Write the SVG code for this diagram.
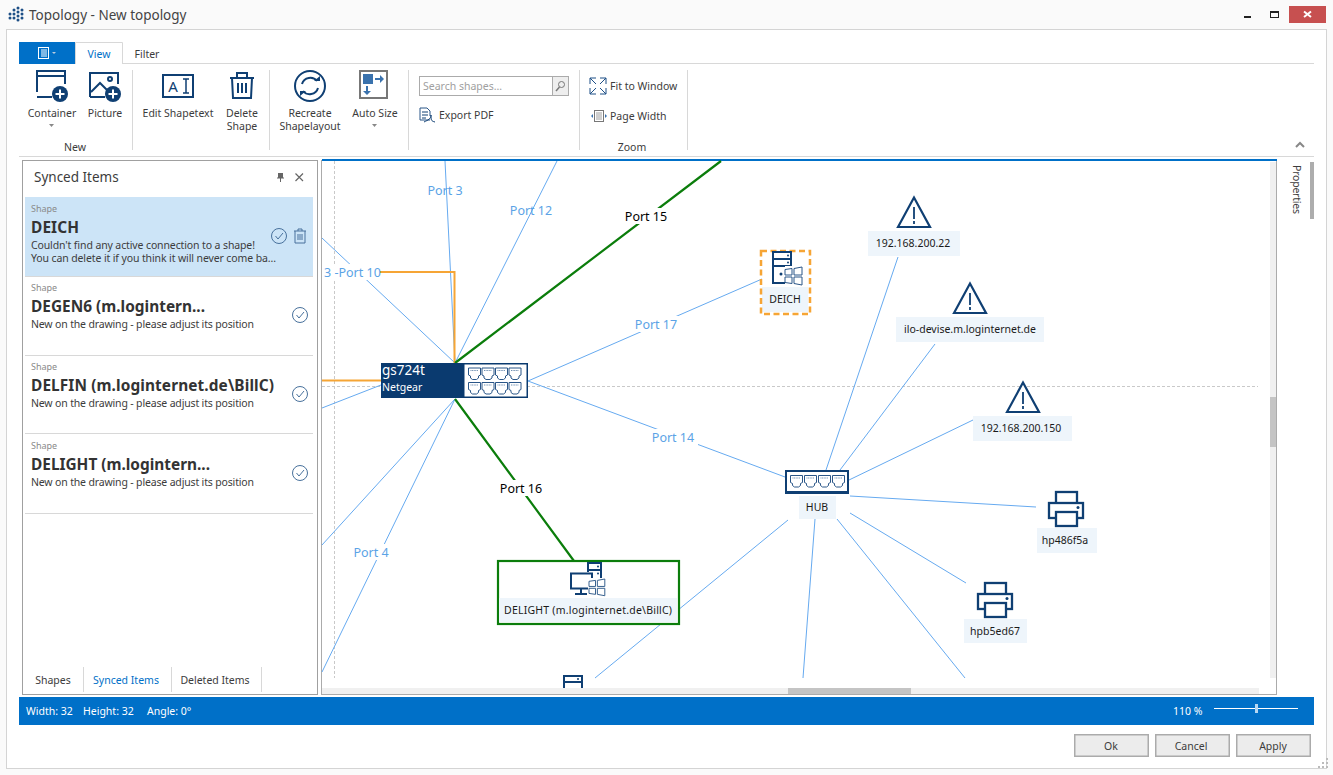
<svg xmlns="http://www.w3.org/2000/svg" width="1333" height="775" viewBox="0 0 1333 775">
<style>
text{font-family:"Noto Sans","Open Sans","Liberation Sans",sans-serif;font-size:10.5px;fill:#3c3c3c}
.m{text-anchor:middle}
.w{fill:#fff}
.d{fill:#1a1a1a}
.b{font-weight:700;font-size:15.4px;fill:#333}
.s{font-size:9px;fill:#8a8a8a}
.pl{font-size:12.5px;fill:#5ba3e6}
.bl{font-size:12.5px;fill:#000}
.sep{stroke:#d8d8d8;stroke-width:1;fill:none}
.ic{fill:none;stroke:#0f3f73;stroke-width:2}
.icf{fill:#0f3f73}
.lb{fill:#eef5fb}
.c{stroke:#66aaf0;stroke-width:1;fill:none}
.o{stroke:#f6a535;stroke-width:2;fill:none}
.g{stroke:#0b7d0b;stroke-width:2.2;fill:none}
.btn{fill:#ececec;stroke:#ababab;stroke-width:1.5}
.chk{fill:none;stroke:#48719c;stroke-width:1}
</style>
<defs>
<g id="port"><path d="M.5 .5H12.500V7.500L10.500 8.500V10.500L8.500 12H4.500L2.500 10.500V8.500L.5 7.500Z" fill="#fff" stroke="#2a5688" stroke-width="1"/><path d="M2.500 3H10.500" stroke="#6f8fb2" stroke-width="1.200" stroke-dasharray="1 .6"/></g>
<g id="warn"><path d="M1 31L17 1.500L33 31Z" fill="#fff" stroke="#0f3f73" stroke-width="2.200"/><path d="M17 11V23M17 25V28" stroke="#0f3f73" stroke-width="1.800"/></g>
<g id="printer"><rect x="8" y="1" width="21" height="12" fill="#fff" stroke="#0f3f73" stroke-width="2.300"/><rect x="1" y="12" width="34" height="15" fill="#fff" stroke="#0f3f73" stroke-width="2.300"/><rect x="8" y="21" width="21" height="14" fill="#fff" stroke="#0f3f73" stroke-width="2.300"/><circle cx="30" cy="16.500" r="1.500" class="icf"/></g>
<g id="win"><path d="M0 2.500L7 1.500V8H0ZM9 1.500L17 0V8H9ZM0 10H7V16.500L0 15.500ZM9 10H17V18L9 16.500Z" fill="#fff" stroke="#2a5688" stroke-width="1"/></g>
<g id="plus"><circle r="8" class="icf"/><path d="M-4.500 0H4.500M0-4.500V4.500" stroke="#fff" stroke-width="2"/></g>
<g id="chk"><circle r="7.500" class="chk"/><path d="M-3.500 0L-1 3L4-3" class="chk"/></g>
</defs>
<rect width="1333" height="775" fill="#fafafa"/>
<g id="titlebar">
<g fill="#1d4f86"><circle cx="10" cy="14" r="1.500"/><circle cx="10" cy="18" r="1.500"/><circle cx="14" cy="10" r="1.500"/><circle cx="14" cy="14" r="1.500"/><circle cx="14" cy="18" r="1.500"/><circle cx="18" cy="8" r="1.500"/><circle cx="18" cy="12" r="1.500"/><circle cx="18" cy="16" r="1.500"/><circle cx="18" cy="20" r="1.500"/><circle cx="22" cy="10" r="1.500"/><circle cx="22" cy="14" r="1.500"/><circle cx="22" cy="18" r="1.500"/></g>
<text x="29" y="20" style="font-size:13.500px;fill:#444">Topology - New topology</text>
<rect x="1244" y="16" width="7" height="2" fill="#222"/>
<rect x="1270.500" y="11.500" width="8" height="6" fill="none" stroke="#222"/><rect x="1270" y="11" width="9" height="2" fill="#222"/>
<rect x="1289" y="6" width="37" height="17" fill="#c75050"/>
<path d="M1304 11.500L1311 17M1311 11.500L1304 17" stroke="#fff" stroke-width="2"/>
</g>
<rect x="6.500" y="29.500" width="1320" height="739" fill="#fff" stroke="#d4d4d4"/>
<g id="ribbon">
<path class="sep" d="M19 63.500H75M123 63.500H1314M19 156.500H1314M132.500 70V150M269.500 70V150M408.500 70V150M579.500 70V150M687.500 70V150"/>
<rect x="19" y="42" width="56" height="22" fill="#0070c8"/>
<g fill="none" stroke="#fff"><rect x="38.500" y="47.500" width="10" height="11"/><path d="M41 50H47M41 52H47M41 54H47M41 56H47"/></g>
<path d="M52 52H56L54 54Z" fill="#bcd"/>
<path d="M75.500 64V42.500H122.500V64" fill="#fff" stroke="#d8d8d8"/>
<text x="99" y="58" class="m" style="fill:#0070c8">View</text>
<text x="147" y="58" class="m">Filter</text>
<g id="btn-container"><path d="M37 92V71H65V84M37 76H65M37 97H52" class="ic"/><use href="#plus" x="60" y="94"/><text x="52" y="117" class="m">Container</text><path d="M49 124H54L51.500 127Z" fill="#888"/></g>
<g id="btn-picture"><path d="M90 97V73H118V84M90 97H105M91 92L100 83L108 91" class="ic"/><circle cx="110" cy="79" r="2" class="ic" stroke-width="1.500"/><use href="#plus" x="113" y="94"/><text x="105" y="117" class="m">Picture</text></g>
<text x="75" y="151" class="m">New</text>
<g id="btn-edit"><rect x="163" y="75" width="30" height="22" class="ic"/><text x="173" y="92" class="m" style="font-size:15px;fill:#0f3f73">A</text><path d="M183 79H189M186 79V93M183 93H189" stroke="#0f3f73" stroke-width="1.500"/><text x="178" y="117" class="m">Edit Shapetext</text></g>
<g id="btn-delete"><path d="M230 78H254M237 78V73H247V78M232 78L233 98H251L252 78M238 83V93M242 83V93M246 83V93" class="ic"/><text x="242" y="117" class="m">Delete</text><text x="242" y="130" class="m">Shape</text></g>
<g id="btn-recreate"><circle cx="310" cy="86" r="15" class="ic"/><path d="M302 84C304 77 313 76 317 81M318 88C316 95 307 96 303 91" class="ic"/><path d="M314 81H320V76ZM306 91H300V96Z" class="icf"/><text x="310" y="117" class="m">Recreate</text><text x="310" y="130" class="m">Shapelayout</text></g>
<g id="btn-autosize"><rect x="360" y="71" width="27" height="27" fill="none" stroke="#777" stroke-width="2"/><rect x="363" y="74" width="10" height="10" fill="#3a72ad"/><path d="M375 79H383M367 86V94" stroke="#3a72ad" stroke-width="2"/><path d="M380 75L384 79L380 83ZM363 91H371L367 95Z" fill="#3a72ad"/><text x="375" y="117" class="m">Auto Size</text><path d="M372 124H377L374.500 127Z" fill="#888"/></g>
<g id="search"><rect x="419.500" y="76.500" width="149" height="19" fill="#fff" stroke="#ababab"/><rect x="552.500" y="76.500" width="16" height="19" fill="#eee" stroke="#ababab"/><circle cx="561.500" cy="84.500" r="3" fill="none" stroke="#777"/><path d="M559.500 87L556 91" stroke="#777" stroke-width="1.500"/><text x="423" y="90" style="fill:#a0a0a0">Search shapes…</text></g>
<g id="btn-export"><path d="M430 120H420V108H427L430 111V116" fill="none" stroke="#2a5688"/><path d="M422 112H428M422 115H428M422 118H426M424 122C428 120 431 119 431 115C431 120 431 121 435 122" fill="none" stroke="#0f3f73"/><text x="439" y="119">Export PDF</text></g>
<g id="btn-fit"><path d="M590 78H596M590 78V84M590 78L596 84M606 78H600M606 78V84M606 78L600 84M590 94H596M590 94V88M590 94L596 88M606 94H600M606 94V88M606 94L600 88" fill="none" stroke="#1d4f86"/><text x="610" y="90">Fit to Window</text></g>
<g id="btn-page"><rect x="594.500" y="110.500" width="9" height="11" fill="none" stroke="#777"/><path d="M596 113H602M596 115H602M596 117H602M596 119H602" stroke="#777" stroke-width=".7"/><path d="M591 116L593 114V118ZM607 116L605 114V118Z" fill="#3a72ad"/><text x="610" y="120">Page Width</text></g>
<text x="632" y="151" class="m">Zoom</text>
<path d="M1296 147L1300 143L1304 147" fill="none" stroke="#888" stroke-width="2"/>
</g>
<g id="properties">
<text transform="translate(1293 165) rotate(90)" textLength="49">Properties</text>
<rect x="1310" y="162" width="4" height="57" fill="#adadad"/>
</g>
<g id="canvas">
<rect x="321.500" y="160.500" width="955" height="534" fill="#fff" stroke="#ababab"/>
<rect x="322" y="159" width="955" height="2" fill="#0070c8"/>
<path d="M334.500 161V678M322 386.500H1258" stroke="#c9c9c9" stroke-dasharray="3 2" fill="none"/>
<rect x="1270" y="162" width="6" height="516" fill="#f0f0f0"/>
<rect x="1270" y="397" width="6" height="50" fill="#c4c4c4"/>
<rect x="322" y="688" width="937" height="6" fill="#f0f0f0"/>
<rect x="788" y="688" width="123" height="6" fill="#c4c4c4"/>
</g>
<g id="connectors">
<path class="c" d="M445 161L455 363M557 161L455 363M322 238L455 363M528 381L762 279M528 381L785 477M381 385L322 408M455 399L322 545M455 399L322 672"/>
<path class="o" d="M322 272H454.500V363M322 380.500H381"/>
<path class="g" d="M721 161L455 363M455 399L574 561"/>
<path class="c" d="M826 470L898 257M840 470L935 344M849 480L973 420M850 496L1036 507M850 513L966 583M837 519L965 678M815 519L803 678M788 520L595 678"/>
</g>
<g id="edge-labels">
<text x="445" y="195" class="pl m">Port 3</text>
<text x="531" y="215" class="pl m">Port 12</text>
<rect x="322" y="264" width="58" height="16" fill="#fff"/>
<text x="324" y="277" class="pl">3 -Port 10</text>
<rect x="622" y="208" width="48" height="16" fill="#fff"/>
<text x="646" y="221" class="bl m">Port 15</text>
<rect x="632" y="316" width="50" height="16" fill="#fff"/>
<text x="656" y="329" class="pl m">Port 17</text>
<rect x="648" y="429" width="50" height="16" fill="#fff"/>
<text x="673" y="442" class="pl m">Port 14</text>
<rect x="497" y="480" width="48" height="16" fill="#fff"/>
<text x="521" y="493" class="bl m">Port 16</text>
<rect x="350" y="544" width="42" height="16" fill="#fff"/>
<text x="371" y="557" class="pl m">Port 4</text>
</g>
<g id="node-gs724t">
<rect x="381" y="363" width="147" height="35" fill="#0a3a6f"/>
<rect x="464.500" y="364.500" width="62" height="32" fill="#fff"/>
<use href="#port" x="468" y="367.500"/><use href="#port" x="481.500" y="367.500"/><use href="#port" x="495" y="367.500"/><use href="#port" x="508.500" y="367.500"/>
<use href="#port" x="468" y="382"/><use href="#port" x="481.500" y="382"/><use href="#port" x="495" y="382"/><use href="#port" x="508.500" y="382"/>
<text x="382" y="375" class="w" style="font-size:13.500px">gs724t</text>
<text x="382" y="391" class="w" style="font-size:10.500px">Netgear</text>
</g>
<g id="node-deich">
<rect x="762" y="287" width="46" height="25" class="lb"/>
<rect x="761" y="251" width="49" height="63" fill="none" stroke="#f6a535" stroke-width="2.500" stroke-dasharray="6 3.500"/>
<path d="M773 252H791V283H773ZM773 259H791M773 266H791" fill="none" stroke="#0f3f73" stroke-width="2"/>
<circle cx="788" cy="255.500" r="1" class="icf"/><circle cx="788" cy="262.500" r="1" class="icf"/>
<circle cx="781" cy="274" r="1.500" class="icf"/>
<rect x="785" y="266" width="19" height="20" fill="#fff"/>
<use href="#win" x="785" y="267"/>
<text x="785" y="303" class="m d">DEICH</text>
</g>
<g id="node-delight">
<rect x="498" y="561" width="181" height="63" fill="#fff" stroke="#0b7d0b" stroke-width="2.200"/>
<rect x="499" y="598" width="178" height="24" class="lb"/>
<path d="M588 572V563H601V579M588 570H601" fill="none" stroke="#0f3f73" stroke-width="2"/>
<circle cx="598" cy="566.500" r="1" class="icf"/><circle cx="598" cy="573.500" r="1" class="icf"/>
<rect x="571" y="573.500" width="21" height="15" fill="#fff" stroke="#0f3f73" stroke-width="2"/>
<path d="M575 594H587M581 589V593" stroke="#0f3f73" stroke-width="2"/>
<rect x="588" y="578" width="18" height="19" fill="#fff"/>
<use href="#win" x="0" y="0" transform="translate(589 579) scale(.93)"/>
<text x="504" y="614" class="d" textLength="168">DELIGHT (m.loginternet.de\BillC)</text>
</g>
<g id="node-partial">
<path d="M564 688V676H582V688M564 682H582" fill="none" stroke="#0f3f73" stroke-width="2"/>
<circle cx="578" cy="679" r="1" class="icf"/>
</g>
<g id="node-hub">
<rect x="786" y="471" width="62" height="22" fill="#fff" stroke="#0f3f73" stroke-width="2"/>
<rect x="785" y="491" width="64" height="3" fill="#0f3f73"/>
<use href="#port" x="790" y="475"/><use href="#port" x="804" y="475"/><use href="#port" x="818" y="475"/><use href="#port" x="832" y="475"/>
<rect x="799" y="496" width="37" height="23" class="lb"/>
<text x="817" y="511" class="m d">HUB</text>
</g>
<g id="node-ip22"><use href="#warn" x="897" y="196"/><rect x="868" y="231" width="92" height="25" class="lb"/><text x="913" y="247" class="m d">192.168.200.22</text></g>
<g id="node-ilo"><use href="#warn" x="953" y="282"/><rect x="896" y="317" width="148" height="25" class="lb"/><text x="970" y="333" class="m d">ilo-devise.m.loginternet.de</text></g>
<g id="node-ip150"><use href="#warn" x="1006" y="381"/><rect x="973" y="416" width="99" height="25" class="lb"/><text x="1021" y="432" class="m d">192.168.200.150</text></g>
<g id="node-hp486"><use href="#printer" x="1048" y="491"/><rect x="1037" y="528" width="60" height="25" class="lb"/><text x="1065" y="544" class="m d">hp486f5a</text></g>
<g id="node-hpb"><use href="#printer" x="977" y="582"/><rect x="964" y="619" width="63" height="24" class="lb"/><text x="995" y="635" class="m d">hpb5ed67</text></g>
<g id="panel">
<rect x="22.500" y="160.500" width="295" height="534" fill="#fff" stroke="#a0a0a0"/>
<text x="34" y="182" style="font-size:13.500px">Synced Items</text>
<rect x="278" y="173" width="5" height="5" fill="#666"/><path d="M277 178H284M280.500 178V182" stroke="#666"/>
<path d="M295.500 173.500L303 181M303 173.500L295.500 181" stroke="#666" stroke-width="1.200"/>
<rect x="25" y="197" width="288" height="79" fill="#cce4f7"/>
<path class="sep" d="M25 276.500H313M25 355.500H313M25 433.500H313M25 513.500H313"/>
<text x="31" y="212" class="s">Shape</text>
<text x="31" y="233" class="b" textLength="48">DEICH</text>
<text x="31" y="249" textLength="224">Couldn't find any active connection to a shape!</text>
<text x="31" y="262" textLength="245">You can delete it if you think it will never come ba...</text>
<use href="#chk" x="279" y="236"/>
<path d="M294 231H306M298 231V229H302V231M295 231V243H305V231M298 234V240M300 234V240M302 234V240" fill="none" stroke="#48719c"/>
<text x="31" y="291" class="s">Shape</text>
<text x="31" y="312" class="b" textLength="174">DEGEN6 (m.logintern...</text>
<text x="31" y="328" textLength="223">New on the drawing - please adjust its position</text>
<use href="#chk" x="300" y="315"/>
<text x="31" y="370" class="s">Shape</text>
<text x="31" y="391" class="b" textLength="243">DELFIN (m.loginternet.de\BillC)</text>
<text x="31" y="407" textLength="223">New on the drawing - please adjust its position</text>
<use href="#chk" x="300" y="394"/>
<text x="31" y="449" class="s">Shape</text>
<text x="31" y="470" class="b" textLength="179">DELIGHT (m.logintern...</text>
<text x="31" y="486" textLength="223">New on the drawing - please adjust its position</text>
<use href="#chk" x="300" y="473"/>
<path class="sep" d="M83.500 667V692M171.500 667V692M261.500 667V692"/>
<text x="53" y="684" class="m">Shapes</text>
<text x="126" y="684" class="m" style="fill:#0070c8">Synced Items</text>
<text x="215" y="684" class="m">Deleted Items</text>
</g>
<g id="statusbar">
<rect x="19" y="697" width="1295" height="28" fill="#0070c8"/>
<text x="26" y="715" class="w">Width: 32</text>
<text x="83" y="715" class="w">Height: 32</text>
<text x="147" y="715" class="w">Angle: 0°</text>
<text x="1173" y="715" class="w">110 %</text>
<path d="M1214 708.500H1298" stroke="#fff"/>
<rect x="1255" y="704" width="3" height="9" fill="#b6d7f2"/>
</g>
<g id="buttons">
<rect x="1074.750" y="734.750" width="73.500" height="21.500" class="btn"/>
<rect x="1155.750" y="734.750" width="73.500" height="21.500" class="btn"/>
<rect x="1236.750" y="734.750" width="73.500" height="21.500" class="btn"/>
<text x="1111" y="750" class="m">Ok</text>
<text x="1191" y="750" class="m">Cancel</text>
<text x="1273" y="750" class="m">Apply</text>
<path d="M1326 766h2v2h-2zM1322 766h2v2h-2zM1318 766h2v2h-2zM1326 762h2v2h-2zM1322 762h2v2h-2zM1326 758h2v2h-2z" fill="#bbb"/>
</g>
</svg>
